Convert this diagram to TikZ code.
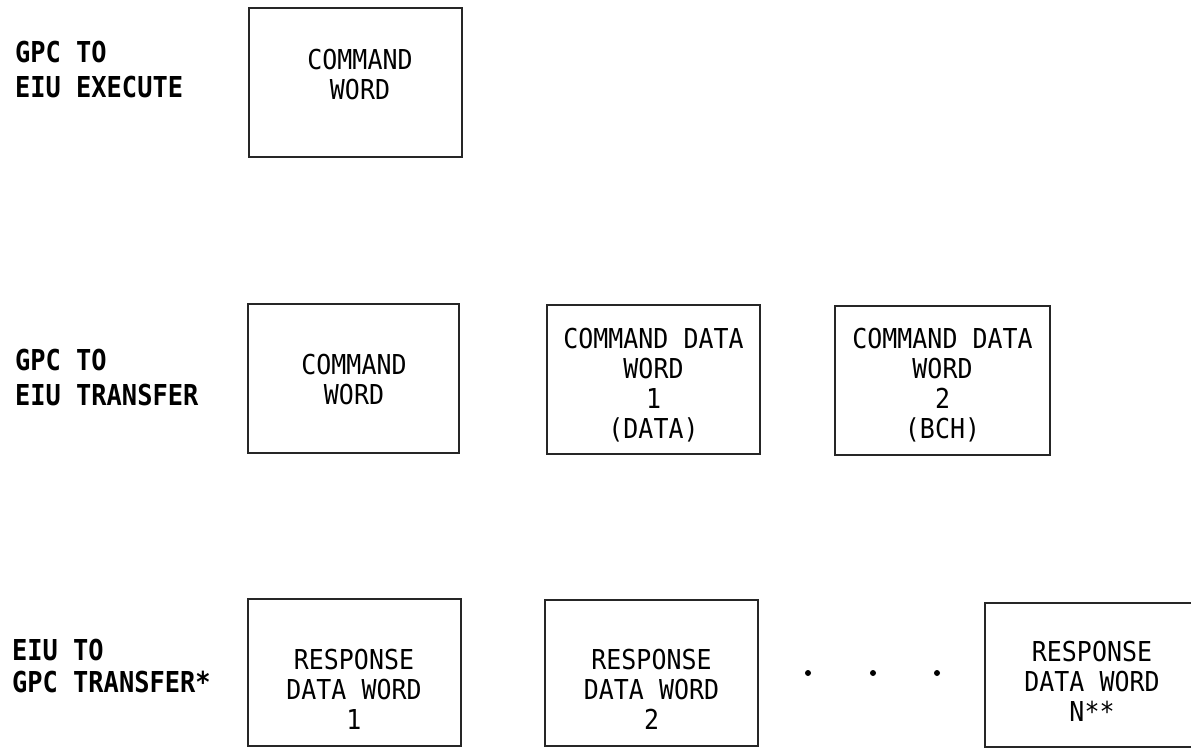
\documentclass[tikz,border=0pt]{standalone}
\usepackage{fontspec}
\newfontfamily\boxfont[FakeStretch=0.91]{DejaVu Sans Mono}
\newfontfamily\lblfont[FakeStretch=0.88]{DejaVu Sans Mono Bold}
\begin{document}
\begin{tikzpicture}[x=1pt,y=-1pt,
  wbox/.style={draw=black!85, line width=2pt, minimum width=213pt, minimum height=149pt, inner sep=0pt},
  wtxt/.style={font=\boxfont\fontsize{27.4}{30}\selectfont, align=center, inner sep=0pt, text=black},
  rowlbl/.style={font=\lblfont\fontsize{28.8}{35}\selectfont, align=left, anchor=west, inner sep=0pt, text=black},
  dotn/.style={circle, fill=black, minimum size=6pt, inner sep=0pt}]
\useasboundingbox (0,0) rectangle (1191,749);
\fill[white] (0,0) rectangle (1191,749);

% row labels
\node[rowlbl] (l1) at (15,70) {GPC TO\\EIU EXECUTE};
\node[rowlbl] (l2) at (15,378) {GPC TO\\EIU TRANSFER};
\node[rowlbl, font=\lblfont\fontsize{28.8}{32}\selectfont] (l3) at (12,666) {EIU TO\\GPC TRANSFER*};

% row 1
\node[wbox] (cw1) at (355.5,82.5) {};
\node[wtxt] (cw1t) at (360,75) {COMMAND\\WORD};

% row 2
\node[wbox, minimum width=211pt] (cw2) at (353.5,378.5) {};
\node[wtxt] (cw2t) at (354,380) {COMMAND\\WORD};
\node[wbox] (cd1) at (653.5,379) {};
\node[wtxt] (cd1t) at (653.5,385) {COMMAND DATA\\WORD\\1\\(DATA)};
\node[wbox, minimum width=215pt] (cd2) at (942.5,380) {};
\node[wtxt] (cd2t) at (942.5,385) {COMMAND DATA\\WORD\\2\\(BCH)};

% row 3
\node[wbox, minimum height=147pt] (r1) at (354,672.5) {};
\node[wtxt] (r1t) at (354,689) {RESPONSE\\DATA WORD\\1};
\node[wbox, minimum height=146pt] (r2) at (651.5,673) {};
\node[wtxt] (r2t) at (651.5,689) {RESPONSE\\DATA WORD\\2};
\node[wbox, minimum height=144pt] (rn) at (1091.5,675) {};
\node[wtxt] (rnt) at (1092,681) {RESPONSE\\DATA WORD\\N**};

\node[dotn] (d1) at (808,673) {};
\node[dotn] (d2) at (873,673) {};
\node[dotn] (d3) at (937,673) {};
\end{tikzpicture}
\end{document}
